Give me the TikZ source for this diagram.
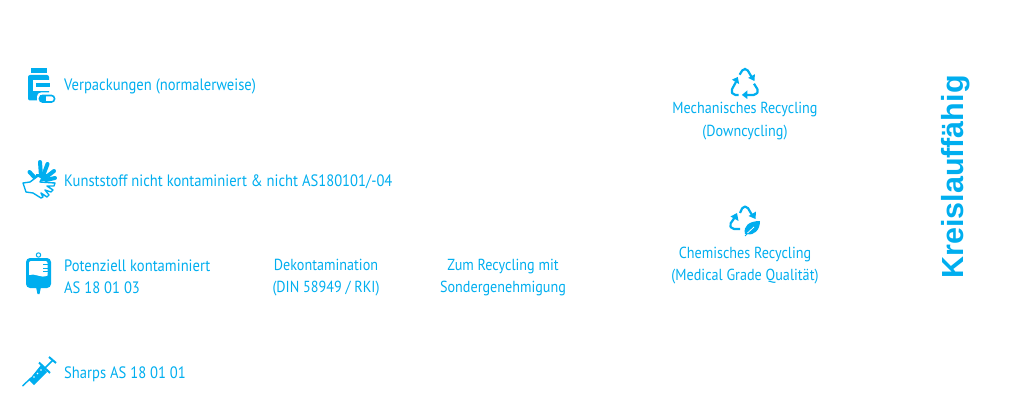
\documentclass[tikz,border=0pt]{standalone}
\usepackage{fontspec}
\setmainfont[FakeStretch=0.885]{PT Sans}
\newfontfamily\boldface{Liberation Sans}[BoldFont={Liberation Sans Bold}]
\definecolor{medblue}{HTML}{00AEEF}
\tikzset{
  lab/.style={text=medblue,inner sep=0pt,font=\fontsize{16.5}{22}\selectfont,align=left},
  ctr/.style={text=medblue,inner sep=0pt,font=\fontsize{16}{22.5}\selectfont,align=center},
  iarrow/.style={draw=medblue,line width=2.2pt,line join=round,rounded corners=2pt},
  finger/.style={draw=medblue,line width=4pt,line cap=round}
}
\begin{document}
\begin{tikzpicture}[x=1pt,y=-1pt]
\useasboundingbox (0,0) rectangle (1024,406);
% texts
\node[lab,anchor=base west] (t1) at (64,91) {Verpackungen (normalerweise)};
\node[lab,anchor=base west] (t2) at (64,186) {Kunststoff nicht kontaminiert \& nicht AS180101/-04};
\node[lab,anchor=west] (t3) at (64,277) {Potenziell kontaminiert\\AS 18 01 03};
\node[lab,anchor=base west] (t4) at (64,378) {Sharps AS 18 01 01};
\node[ctr] (d) at (326,277.5) {Dekontamination\\(DIN 58949 / RKI)};
\node[ctr] (z) at (503,277.5) {Zum Recycling mit\\Sondergenehmigung};
\node[ctr] (m) at (745,121) {Mechanisches Recycling\\(Downcycling)};
\node[ctr] (c) at (745,265.5) {Chemisches Recycling\\(Medical Grade Qualität)};
\node[text=medblue,inner sep=0pt,rotate=90,font=\boldface\bfseries\fontsize{30.5}{31}\selectfont] (k) at (956,177) {Kreislauffähig};
% bottle
\fill[medblue] (30.5,68) rectangle (47,73);
\fill[medblue,rounded corners=2pt] (28,75) rectangle (49,100.5);
\fill[white] (32.5,80) rectangle (49.5,91);
\fill[medblue] (36,83.5) rectangle (49.5,87.5);
\fill[white,rounded corners=4pt] (37,92.5) rectangle (57,104);
\draw[medblue,line width=1.6pt,rounded corners=3pt] (39.5,95.5) rectangle (54.5,102);
\fill[medblue] (39.5,95.5) rectangle (46,102);
% hands
\draw[finger] (29.5,172) -- (37,180);
\draw[finger] (40,162) -- (41,176);
\draw[finger] (47.5,164) -- (43,176);
\draw[finger] (54,171) -- (45,178);
\draw[finger] (55,178) -- (46,180);
\fill[medblue] (36,174) rectangle (47,181);
\draw[draw=medblue,fill=white,line width=1.4pt,line join=round] (23,183) -- (30,182) -- (38,176) -- (42,178) -- (40,182) -- (55,183) -- (54,186) -- (47,186) -- (53,190) -- (51,192) -- (45,190) -- (49,195) -- (47,197) -- (41,193) -- (43,197) -- (41,198) -- (33,193) -- (26,192) -- cycle;
% bag
\fill[medblue,rounded corners=4pt] (26,258) rectangle (51,288);
\fill[medblue] (36,287) -- (41,287) -- (39.5,294) -- (37.5,294) -- cycle;
\draw[medblue,line width=1pt] (38.5,255) circle[radius=2.2];
\fill[white,rounded corners=2pt] (29,261) -- (47.5,261) -- (47.5,274) -- (29,274) -- cycle;
\fill[white] (29,272) -- (29,275) .. controls (35,272.5) and (41,279) .. (47.5,275.5) -- (47.5,272) -- cycle;
\foreach \yy in {264.5,268,271.5} \draw[medblue,line width=0.9pt] (43,\yy) -- (48,\yy);
% syringe
\draw[medblue,line width=1.4pt] (22.5,386) -- (31,378);
\fill[medblue] (29,380) -- (41,365) -- (47,372) -- (34,385) -- cycle;
\draw[medblue,line width=2pt] (39,362.5) -- (50,373);
\draw[medblue,line width=1.6pt] (45,368) -- (53,360);
\draw[medblue,line width=2pt] (49,357) -- (56,363);
\fill[white] (34,377) circle[radius=0.9] (37.5,373.5) circle[radius=0.9] (41,370) circle[radius=0.9];
% recycling 1
\begin{scope}[shift={(745,81)},scale=0.9]
  \draw[iarrow] (-6,-7) -- (-2,-13.5) -- (2,-13.5) -- (7,-5);
  \fill[medblue] (10.5,0) -- (3.5,-3.5) -- (11,-7.5) -- cycle;
  \draw[iarrow] (10,3) -- (15,11) -- (12,15.5) -- (0,15.5);
  \fill[medblue] (-3.5,15.5) -- (2.5,10.5) -- (2.5,20) -- cycle;
  \draw[iarrow] (-7,15.5) -- (-13,15.5) -- (-15.5,11) -- (-10,1);
  \fill[medblue] (-8,-4.5) -- (-14.5,-1.5) -- (-6.5,3.5) -- cycle;
\end{scope}
% recycling 2
\begin{scope}[shift={(745,221)}]
  \draw[iarrow] (-5,-8) -- (-2,-14.5) -- (2,-14.5) -- (7,-6);
  \fill[medblue] (10.5,-2) -- (3.5,-5) -- (11,-9.5) -- cycle;
  \draw[iarrow] (-5,8) -- (-13,8) -- (-15.5,4) -- (-10,-4);
  \fill[medblue] (-8,-8) -- (-14.5,-4.5) -- (-6.5,0) -- cycle;
  \fill[medblue] (0,13) .. controls (-2,5) and (4,0) .. (15,0) .. controls (15,9) and (9,15) .. (2,13) -- cycle;
  \draw[medblue,line width=1pt] (0,15) -- (3,12);
  \draw[white,line width=0.8pt] (2.5,12) -- (9,6);
\end{scope}
\end{tikzpicture}
\end{document}
